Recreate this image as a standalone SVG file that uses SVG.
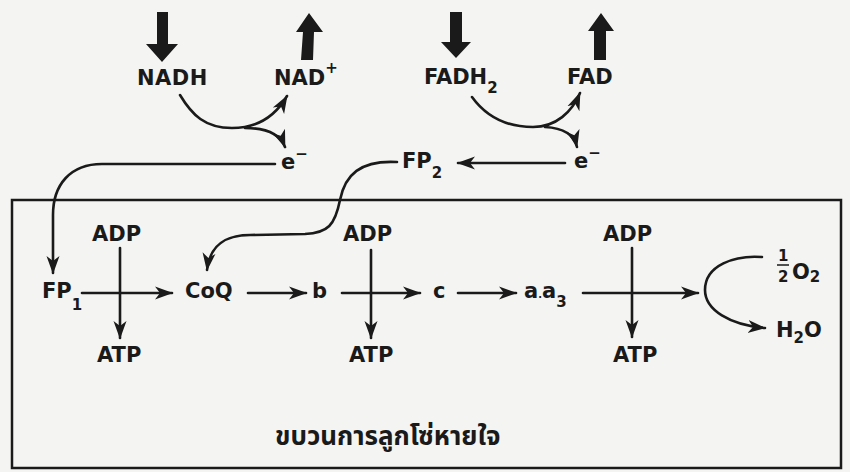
<svg xmlns="http://www.w3.org/2000/svg" width="850" height="472" viewBox="0 0 850 472">
  <style>
    .lbl { font-family: "DejaVu Sans", "Liberation Sans", sans-serif; font-weight: bold; font-size: 21px; fill: #1a1a1a; }
    .sub { font-size: 15px; }
    .frac { font-size: 15px; }
    .thai { font-family: "Noto Sans Thai", "Noto Sans", "DejaVu Sans", sans-serif; font-weight: bold; font-size: 26px; fill: #1a1a1a; }
    .ln { fill: none; stroke: #1a1a1a; stroke-width: 2.6; stroke-linecap: round; }
    .big { fill: #1a1a1a; stroke: none; }
  </style>
  <defs>
    <marker id="ah" markerUnits="userSpaceOnUse" markerWidth="18" markerHeight="16" viewBox="0 0 18 16" refX="17" refY="8" orient="auto">
      <path d="M0,1.5 L18,8 L0,14.5 L5,8 Z" fill="#1a1a1a"/>
    </marker>
  </defs>

  <rect width="850" height="472" fill="#f4f4f2"/>

  <!-- enclosing frame of the chain -->
  <rect id="frame" x="12" y="200" width="829" height="268" fill="none" stroke="#1a1a1a" stroke-width="2.5"/>

  <!-- heavy input/output arrows -->
  <g id="heavy-arrows">
    <path class="big" d="M157,12 L168,12 L168,44 L178,44 L162,62 L146,44 L157,44 Z"/>
    <path class="big" d="M301,60 L313,60 L314,32 L323,32 L309,13 L296,32 L303,32 Z"/>
    <path class="big" d="M450,12 L462,12 L462,42 L471,42 L456,58 L441,42 L450,42 Z"/>
    <path class="big" d="M594,60 L606,60 L606,31 L614,31 L601,13 L588,31 L594,31 Z"/>
  </g>

  <g id="nadh"><text class="lbl" x="137" y="85" letter-spacing="0.5">NADH</text></g>
  <g id="nad"><text class="lbl" x="274" y="85">NAD<tspan dy="-12" class="sub">+</tspan></text></g>
  <g id="fadh2"><text class="lbl" x="424" y="84">FADH<tspan dy="9" class="sub">2</tspan></text></g>
  <g id="fad"><text class="lbl" x="567" y="84">FAD</text></g>
  <g id="e1"><text class="lbl" x="281" y="169">e<tspan dy="-10" class="sub">−</tspan></text></g>
  <g id="e2"><text class="lbl" x="574" y="168">e<tspan dy="-10" class="sub">−</tspan></text></g>
  <g id="fp2"><text class="lbl" x="402" y="168">FP<tspan dy="10" class="sub">2</tspan></text></g>

  <g id="fp1"><text class="lbl" x="42" y="298">FP<tspan dy="12" class="sub">1</tspan></text></g>
  <g id="coq"><text class="lbl" x="185" y="298">CoQ</text></g>
  <g id="b"><text class="lbl" x="312" y="298">b</text></g>
  <g id="c"><text class="lbl" x="433" y="298">c</text></g>
  <g id="aa3"><text class="lbl" x="524" y="298">a<tspan font-size="10">.</tspan>a<tspan dy="9" class="sub">3</tspan></text></g>

  <g id="adp1"><text class="lbl" x="92" y="241">ADP</text></g>
  <g id="atp1"><text class="lbl" x="97" y="362">ATP</text></g>
  <g id="adp2"><text class="lbl" x="343" y="241">ADP</text></g>
  <g id="atp2"><text class="lbl" x="349" y="362">ATP</text></g>
  <g id="adp3"><text class="lbl" x="603" y="241">ADP</text></g>
  <g id="atp3"><text class="lbl" x="613" y="362">ATP</text></g>

  <g id="o2">
    <text class="lbl frac" x="778" y="261">1</text>
    <line x1="777" y1="265" x2="789" y2="265" stroke="#1a1a1a" stroke-width="1.5"/>
    <text class="lbl frac" x="778" y="282">2</text>
    <text class="lbl" x="792" y="279">O<tspan dy="3" class="sub">2</tspan></text>
  </g>
  <g id="h2o"><text class="lbl" x="776" y="337">H<tspan dy="6" class="sub">2</tspan><tspan dy="-6">O</tspan></text></g>

  <g id="caption"><text class="thai" x="275" y="445">ขบวนการลูกโซ่หายใจ</text></g>

  <g id="connectors">
    <!-- NADH oxidation -->
    <path class="ln" d="M180,95 C192,115 205,128 232,128 C258,128 276,115 287,96" marker-end="url(#ah)"/>
    <path class="ln" d="M245,128 C265,128 280,134 285,147" marker-end="url(#ah)"/>
    <!-- FADH2 oxidation -->
    <path class="ln" d="M472,97 C485,115 505,127 533,127 C556,127 572,112 580,93" marker-end="url(#ah)"/>
    <path class="ln" d="M545,127 C563,128 574,134 577,147" marker-end="url(#ah)"/>
    <!-- electrons into the chain -->
    <path class="ln" d="M275,164 L102,164 C70,164 53,185 53,215 L53,273" marker-end="url(#ah)"/>
    <path class="ln" d="M565,163 L458,163" marker-end="url(#ah)"/>
    <path class="ln" d="M397,162 C360,160 345,175 340,200 C335,225 328,233 305,234 L250,235 C225,235 210,245 207,270" marker-end="url(#ah)"/>
    <!-- main chain -->
    <path class="ln" d="M82,293 L172,293" marker-end="url(#ah)"/>
    <path class="ln" d="M248,293 L306,293" marker-end="url(#ah)"/>
    <path class="ln" d="M342,293 L420,293" marker-end="url(#ah)"/>
    <path class="ln" d="M458,293 L516,293" marker-end="url(#ah)"/>
    <path class="ln" d="M583,293 L698,293" marker-end="url(#ah)"/>
    <!-- phosphorylation sites -->
    <path class="ln" d="M120,248 L120,338" marker-end="url(#ah)"/>
    <path class="ln" d="M371,250 L371,338" marker-end="url(#ah)"/>
    <path class="ln" d="M632,248 L632,337" marker-end="url(#ah)"/>
    <!-- oxygen reduction -->
    <path class="ln" d="M762,257 C735,255 705,265 705,290 C705,310 730,325 765,328" marker-end="url(#ah)"/>
  </g>
</svg>
